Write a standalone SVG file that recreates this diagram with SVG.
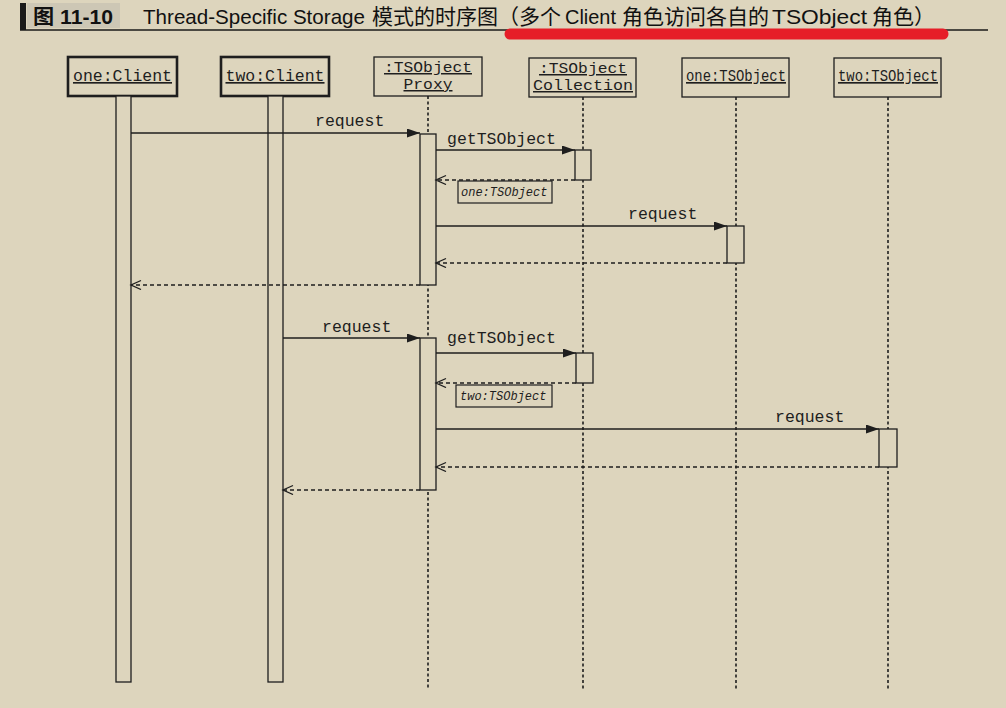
<svg xmlns="http://www.w3.org/2000/svg" width="1006" height="708" viewBox="0 0 1006 708">
<defs>
<style>
.bg{fill:#ddd5bd}
.box{fill:#ddd5bd;stroke:#1e1e1e;stroke-width:1.3}
.thick{stroke-width:2.6}
.act{fill:#ddd5bd;stroke:#1e1e1e;stroke-width:1.3}
.life{stroke:#1e1e1e;stroke-width:1.6;stroke-dasharray:3 2.5;fill:none}
.msg{stroke:#1e1e1e;stroke-width:1.3;fill:none}
.ret{stroke:#1e1e1e;stroke-width:1.3;fill:none;stroke-dasharray:4 3}
.mono{font-family:"Liberation Mono","DejaVu Sans Mono",monospace;font-size:16.5px;fill:#1e1e1e}
.two{font-size:15px}
.hdr{text-anchor:middle;text-decoration:underline}
.rl{font-family:"Liberation Mono","DejaVu Sans Mono",monospace;font-size:12px;font-style:italic;fill:#1e1e1e}
.title{font-family:"Liberation Sans","Noto Sans CJK SC",sans-serif;font-size:21px;fill:#111}
</style>
<marker id="fa" markerUnits="userSpaceOnUse" markerWidth="14" markerHeight="10" refX="13" refY="4.5" orient="auto">
<path d="M0,0 L13,4.5 L0,9 z" fill="#1e1e1e"/>
</marker>
<marker id="oa" markerUnits="userSpaceOnUse" markerWidth="14" markerHeight="12" refX="11" refY="5" orient="auto">
<path d="M1,0.5 L11,5 L1,9.5" fill="none" stroke="#1e1e1e" stroke-width="1.3"/>
</marker>
</defs>
<rect class="bg" x="0" y="0" width="1006" height="708"/>

<g id="title">
<rect x="20" y="3" width="6" height="27" fill="#1a1a1a"/>
<rect x="27" y="3" width="93" height="25" fill="#cdc7b5"/>
<text x="33" y="24" class="title" style="font-weight:bold;font-size:20px" textLength="80" lengthAdjust="spacingAndGlyphs">图 11-10</text>
<line x1="20" y1="30" x2="988" y2="30" stroke="#1a1a1a" stroke-width="1.6"/>
<line x1="510" y1="34" x2="943" y2="34" stroke="#e61e28" stroke-width="11" stroke-linecap="round"/>
<text x="143" y="24" class="title" textLength="222" lengthAdjust="spacingAndGlyphs">Thread-Specific Storage</text>
<text x="372" y="24" class="title">模式的时序图（多个</text>
<text x="565" y="24" class="title" textLength="51" lengthAdjust="spacingAndGlyphs">Client</text>
<text x="622" y="24" class="title">角色访问各自的</text>
<text x="772" y="24" class="title" textLength="95" lengthAdjust="spacingAndGlyphs">TSObject</text>
<text x="872" y="24" class="title">角色）</text>
</g>

<g id="lifelines">
<line class="life" x1="428" y1="96" x2="428" y2="689"/>
<line class="life" x1="583" y1="97" x2="583" y2="689"/>
<line class="life" x1="736" y1="97" x2="736" y2="689"/>
<line class="life" x1="888" y1="97" x2="888" y2="689"/>
</g>

<g id="one-client">
<rect class="box thick" x="68" y="57" width="109" height="39"/>
<text class="mono hdr" x="122.5" y="81">one:Client</text>
<rect class="act" x="116" y="96" width="15" height="586"/>
</g>
<g id="two-client">
<rect class="box thick" x="221" y="57" width="108" height="39"/>
<text class="mono hdr" x="275" y="81">two:Client</text>
<rect class="act" x="268" y="96" width="15" height="586"/>
</g>
<g id="proxy">
<rect class="box" x="374" y="57" width="108" height="39"/>
<text class="mono two hdr" x="428" y="72" textLength="88" lengthAdjust="spacingAndGlyphs">:TSObject</text>
<text class="mono two hdr" x="428" y="89" textLength="49" lengthAdjust="spacingAndGlyphs">Proxy</text>
<rect class="act" x="420" y="134" width="16" height="151"/>
<rect class="act" x="420" y="338" width="16" height="152"/>
</g>
<g id="collection">
<rect class="box" x="529" y="58" width="107" height="39"/>
<text class="mono two hdr" x="583" y="73" textLength="88" lengthAdjust="spacingAndGlyphs">:TSObject</text>
<text class="mono two hdr" x="583" y="90" textLength="100" lengthAdjust="spacingAndGlyphs">Collection</text>
<rect class="act" x="575" y="150" width="16" height="30"/>
<rect class="act" x="576" y="353" width="17" height="30"/>
</g>
<g id="one-tsobject">
<rect class="box" x="682" y="58" width="107" height="39"/>
<text class="mono hdr" x="736" y="81" textLength="100" lengthAdjust="spacingAndGlyphs">one:TSObject</text>
<rect class="act" x="727" y="226" width="17" height="37"/>
</g>
<g id="two-tsobject">
<rect class="box" x="834" y="58" width="107" height="39"/>
<text class="mono hdr" x="888" y="81" textLength="100" lengthAdjust="spacingAndGlyphs">two:TSObject</text>
<rect class="act" x="879" y="429" width="18" height="38"/>
</g>

<g id="connectors">
<line class="msg" x1="131" y1="133" x2="420" y2="133" marker-end="url(#fa)"/>
<text class="mono" x="315" y="126">request</text>
<line class="msg" x1="436" y1="150" x2="575" y2="150" marker-end="url(#fa)"/>
<text class="mono" x="447" y="144">getTSObject</text>
<line class="ret" x1="575" y1="180" x2="436" y2="180" marker-end="url(#oa)"/>
<rect class="box" x="458" y="181" width="94" height="22" style="stroke-width:1.2"/>
<text class="rl" x="461" y="196">one:TSObject</text>
<line class="msg" x1="436" y1="226" x2="727" y2="226" marker-end="url(#fa)"/>
<text class="mono" x="628" y="219">request</text>
<line class="ret" x1="727" y1="263" x2="436" y2="263" marker-end="url(#oa)"/>
<line class="ret" x1="420" y1="285" x2="131" y2="285" marker-end="url(#oa)"/>

<line class="msg" x1="283" y1="338" x2="420" y2="338" marker-end="url(#fa)"/>
<text class="mono" x="322" y="332">request</text>
<line class="msg" x1="436" y1="353" x2="576" y2="353" marker-end="url(#fa)"/>
<text class="mono" x="447" y="343">getTSObject</text>
<line class="ret" x1="576" y1="383" x2="436" y2="383" marker-end="url(#oa)"/>
<rect class="box" x="456" y="385" width="96" height="22" style="stroke-width:1.2"/>
<text class="rl" x="460" y="400">two:TSObject</text>
<line class="msg" x1="436" y1="429" x2="879" y2="429" marker-end="url(#fa)"/>
<text class="mono" x="775" y="422">request</text>
<line class="ret" x1="879" y1="467" x2="436" y2="467" marker-end="url(#oa)"/>
<line class="ret" x1="420" y1="490" x2="283" y2="490" marker-end="url(#oa)"/>
</g>
</svg>
